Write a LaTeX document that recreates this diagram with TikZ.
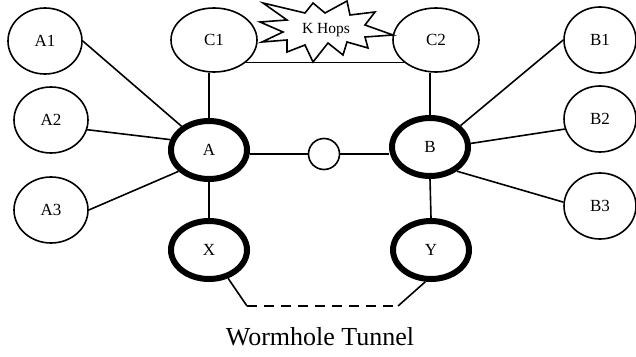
\documentclass[tikz,border=0pt]{standalone}
\usepackage{fontspec}
\setmainfont{Liberation Serif}
\usetikzlibrary{
        shapes.geometric
    }
\tikzset{leaf/.style={ellipse,draw,line width=1.6pt,minimum width=74pt,minimum height=66pt,inner sep=0pt,font=\fontsize{17}{17}\selectfont}}
\tikzset{relay/.style={leaf,minimum width=86pt,minimum height=64pt}}
\tikzset{hub/.style={leaf,line width=6pt,minimum width=76pt,minimum height=58pt}}

\begin{document}
\begin{tikzpicture}[line width=1.6pt,x=1pt,y=-1pt]
                \useasboundingbox (0,0) rectangle (636,356);
                % left side
                \node[leaf]  (A1) at (45,41)   {A1};
                \node[leaf]  (A2) at (51,120)  {A2};
                \node[leaf]  (A3) at (51,210)  {A3};
                \node[relay] (C1) at (214,40)  {C1};
                \node[hub]   (A)  at (209,150) {A};
                \node[hub]   (X)  at (209,250) {X};
                % right side
                \node[relay] (C2) at (436,40)  {C2};
                \node[hub]   (B)  at (430,147) {B};
                \node[hub]   (Y)  at (431,250) {Y};
                \node[leaf,minimum width=72pt]  (B1) at (600,40)  {B1};
                \node[leaf,minimum width=72pt]  (B2) at (600,119) {B2};
                \node[leaf,minimum width=72pt]  (B3) at (600,206) {B3};
                % middle
                \node[circle,draw,minimum size=31pt,inner sep=0pt] (hop) at (324,154) {};
                % the burst
                \draw[fill=white] (263,3) -- (305,13) -- (313,3) -- (325,13) -- (347,1) -- (350,15)
                    -- (375,12) -- (365,25) -- (393,35) -- (365,37) -- (368,48) -- (347,42)
                    -- (343,55) -- (328,43) -- (313,62) -- (305,45) -- (287,52) -- (287,40)
                    -- (262,42) -- (283,32) -- (260,22) -- (287,20) -- cycle;
                \node[font=\fontsize{15.5}{15.5}\selectfont] (khops) at (326,30) {K Hops};
                \coordinate (tl) at (247,306);
                \coordinate (tr) at (398,306);
                \node[font=\fontsize{26}{26}\selectfont] (tunnel) at (320,337) {Wormhole Tunnel};
                \path
                    (A1.east)  edge (A)
                    (A2.-15)   edge (A.165)
                    (A3.east)  edge (A.215)
                    (C1.south -| A.north) edge (A.north)
                    (A.south)  edge (X.north)
                    (hop.west -| A.east) edge (hop.west)
                    (hop.east) edge (hop.east -| B.west)
                    (B.north)  edge (B.north |- C2.south)
                    (B.35)     edge (B1.west)
                    (B.5)      edge (B2.196)
                    (B.-42)    edge (B3.174)
                    (B.south)  edge (Y.north)
                    (C1.-35)   edge (C2.-145)
                ;
                \draw (X.-56) -- (tl);
                \draw[dash pattern=on 10pt off 7pt] (tl) -- (tr);
                \draw (tr) -- (Y.-100);
            \end{tikzpicture}
\end{document}
